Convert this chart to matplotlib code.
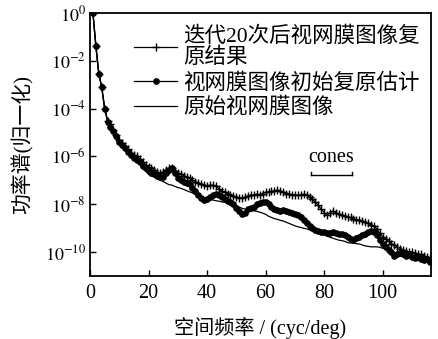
import numpy as np
import matplotlib
matplotlib.use("Agg")
import matplotlib.pyplot as plt

plt.rcParams['font.family'] = ['Liberation Serif', 'Noto Sans CJK SC', 'DejaVu Sans']
plt.rcParams['mathtext.fontset'] = 'stix'

freq = list(range(1, 117))

# log10 of normalized power spectrum
orig_log = [0, -1.3, -2.5, -3.1, -3.95, -4.5, -4.8, -5.05, -5.25, -5.45,
            -5.6, -5.75, -5.85, -5.98, -6.1, -6.22, -6.35, -6.5, -6.62, -6.72,
            -6.8, -6.85, -6.93, -7.0, -7.05, -7.12, -7.18, -7.2, -7.25, -7.3,
            -7.33, -7.38, -7.43, -7.48, -7.52, -7.6, -7.68, -7.72, -7.75, -7.78,
            -7.8, -7.82, -7.85, -7.87, -7.9, -7.92, -7.95, -7.97, -8.0, -8.05,
            -8.12, -8.17, -8.2, -8.22, -8.25, -8.27, -8.3, -8.33, -8.37, -8.42,
            -8.5, -8.55, -8.6, -8.63, -8.67, -8.7, -8.75, -8.8, -8.85, -8.9,
            -8.94, -8.97, -9.0, -9.03, -9.07, -9.1, -9.14, -9.18, -9.22, -9.27,
            -9.33, -9.38, -9.42, -9.46, -9.5, -9.52, -9.55, -9.6, -9.62, -9.62,
            -9.65, -9.66, -9.7, -9.74, -9.76, -9.78, -9.78, -9.78, -9.8, -9.84,
            -9.88, -9.93, -9.98, -10.02, -10.06, -10.1, -10.14, -10.17, -10.2, -10.23,
            -10.27, -10.3, -10.34, -10.38, -10.42, -10.46]

init_log = [0, -1.4, -2.55, -3.1, -4.0, -4.55, -4.75, -4.95, -5.15, -5.4,
            -5.5, -5.65, -5.8, -5.95, -6.05, -6.15, -6.25, -6.4, -6.5, -6.6,
            -6.7, -6.75, -6.82, -6.88, -6.85, -6.7, -6.55, -6.5, -6.7, -6.9,
            -7.0, -7.05, -7.1, -7.15, -7.3, -7.45, -7.6, -7.75, -7.82, -7.8,
            -7.7, -7.6, -7.55, -7.6, -7.7, -7.8, -7.85, -7.9, -8.0, -8.15,
            -8.3, -8.42, -8.35, -8.2, -8.15, -8.1, -8.0, -7.95, -7.9, -7.92,
            -8.0, -8.1, -8.2, -8.25, -8.27, -8.25, -8.3, -8.32, -8.35, -8.4,
            -8.45, -8.55, -8.65, -8.78, -8.9, -9.0, -9.08, -9.12, -9.15, -9.18,
            -9.2, -9.2, -9.17, -9.2, -9.25, -9.25, -9.3, -9.35, -9.45, -9.5,
            -9.4, -9.35, -9.3, -9.25, -9.15, -9.1, -9.15, -9.3, -9.5, -9.65,
            -9.8, -9.9, -10.0, -10.15, -10.1, -10.05, -10.1, -10.15, -10.1, -10.2,
            -10.25, -10.2, -10.3, -10.35, -10.3, -10.4]

iter_log = [0, -1.4, -2.55, -3.1, -4.0, -4.5, -4.65, -4.9, -5.1, -5.3,
            -5.45, -5.55, -5.7, -5.85, -5.95, -6.0, -6.1, -6.25, -6.35, -6.45,
            -6.5, -6.55, -6.65, -6.7, -6.65, -6.55, -6.5, -6.5, -6.6, -6.7,
            -6.75, -6.8, -6.85, -6.9, -7.0, -7.05, -7.1, -7.15, -7.2, -7.25,
            -7.2, -7.2, -7.25, -7.35, -7.45, -7.5, -7.55, -7.6, -7.65, -7.7,
            -7.72, -7.75, -7.7, -7.65, -7.6, -7.62, -7.58, -7.6, -7.55, -7.5,
            -7.5, -7.45, -7.45, -7.4, -7.45, -7.5, -7.55, -7.55, -7.6, -7.6,
            -7.62, -7.6, -7.58, -7.62, -7.7, -7.8, -7.9, -8.05, -8.2, -8.35,
            -8.45, -8.35, -8.28, -8.35, -8.4, -8.45, -8.5, -8.55, -8.55, -8.6,
            -8.65, -8.65, -8.7, -8.75, -8.8, -8.85, -8.9, -9.05, -9.2, -9.35,
            -9.45, -9.55, -9.65, -9.7, -9.8, -9.85, -9.9, -9.95, -10.0, -10.0,
            -10.05, -10.1, -10.1, -10.15, -10.2, -10.25]

labels = ["迭代20次后视网膜图像复\n原结果", "视网膜图像初始复原估计", "原始视网膜图像"]
xticks = [0, 20, 40, 60, 80, 100]
yticks_exp = [0, -2, -4, -6, -8, -10]
cones_range = (75.5, 89.5)

fig = plt.figure(figsize=(4.38, 3.39), dpi=100)
ax = fig.add_axes([90/438, 1-276/339, (431-90)/438, (276-13)/339])

fs = 14.5
x = np.array(freq)
ax.plot(x, 10.0**np.array(iter_log), color='black', lw=0.9, marker='+', ms=6, mew=1.0, label=labels[0])
ax.plot(x, 10.0**np.array(init_log), color='black', lw=0.9, marker='o', ms=3.8, label=labels[1])
ax.plot(x, 10.0**np.array(orig_log), color='black', lw=0.9, label=labels[2])

ax.set_yscale('log')
ax.set_xlim(0, 116.5)
ax.set_ylim(1e-11, 1.0)
ax.set_xticks(xticks)
ax.set_xticklabels([str(t) for t in xticks])
ax.set_yticks([10.0**e for e in yticks_exp])
ax.set_yticklabels([r'$10^{%d}$' % e for e in yticks_exp])
ax.yaxis.set_minor_locator(matplotlib.ticker.NullLocator())
ax.tick_params(direction='in', length=4, width=1, top=False, right=False)
ax.tick_params(axis='x', pad=6, labelsize=fs)
ax.tick_params(axis='y', pad=3, labelsize=13)
for s in ax.spines.values():
    s.set_linewidth(1.3)

ax.set_xlabel('空间频率 / (cyc/deg)', fontsize=fs, labelpad=10)
ax.set_ylabel('功率谱(归一化)', fontsize=15, labelpad=8)

leg = ax.legend(loc='upper left', bbox_to_anchor=(134/438, 1-26/339), bbox_transform=fig.transFigure,
                frameon=False, fontsize=15.5, handlelength=2.0, handletextpad=0.3, labelspacing=0.2,
                borderpad=0, borderaxespad=0, numpoints=1)
for t in leg.get_texts():
    t.set_linespacing(1.1)

# cones annotation
ax.text(sum(cones_range)/2, 10**-6.45, 'cones', ha='center', va='bottom', fontsize=fs)
yb = 10**-6.78
ax.plot([cones_range[0], cones_range[1]], [yb, yb], color='black', lw=1.0)
ax.plot([cones_range[0], cones_range[0]], [yb, 10**-6.64], color='black', lw=1.0)
ax.plot([cones_range[1], cones_range[1]], [yb, 10**-6.64], color='black', lw=1.0)

fig.savefig('out.png', dpi=100)
